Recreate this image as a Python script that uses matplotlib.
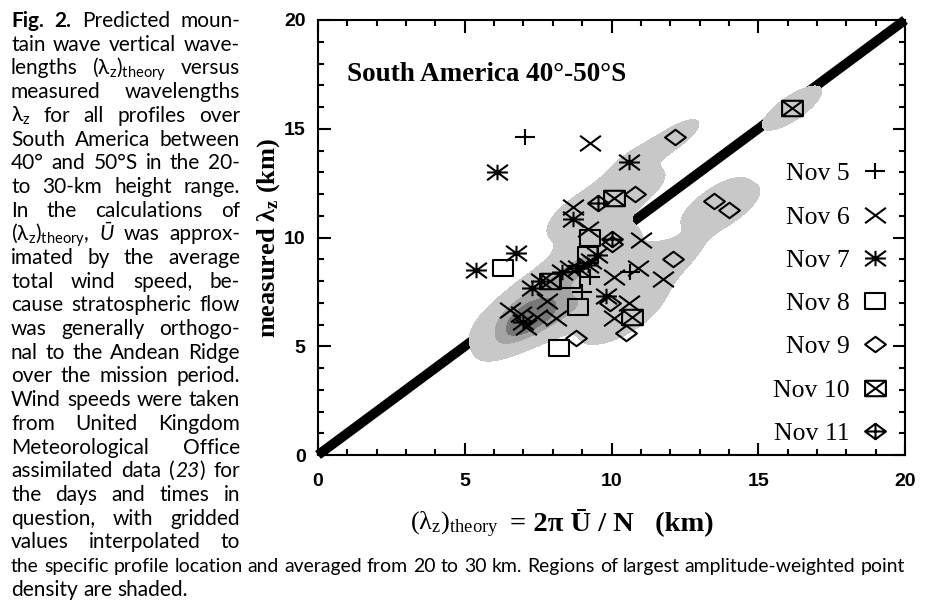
import re
import numpy as np
import matplotlib as mpl
mpl.use('agg')
import matplotlib.pyplot as plt
from matplotlib.path import Path
from matplotlib.ticker import MultipleLocator

# ---- data: (lambda_z)theory vs measured lambda_z, km ----
# w = amplitude weight used for the shaded point-density regions
nov5_x = [7.05, 10.63, 9.27, 9.0, 8.85]
nov5_y = [14.6, 8.4, 8.2, 7.5, 8.7]
nov5_w = [0, 0.2, 0.25, 0.25, 0.25]

nov6_x = [9.27, 8.7, 9.2, 11.0, 10.9, 11.75, 10.1, 10.6, 10.1, 6.55, 6.9, 7.1, 7.45, 8.1, 7.8, 8.6, 9.3]
nov6_y = [14.35, 11.4, 10.4, 9.9, 8.6, 8.1, 8.2, 7.0, 6.3, 6.67, 6.5, 5.9, 6.35, 6.3, 7.1, 8.6, 8.9]
nov6_w = [0, 0.25, 0.4, 0.15, 0.5, 0.2, 0.3, 0.6, 0.6, 1.0, 1.4, 1.4, 1.4, 0.9, 0.6, 0.25, 0.25]

nov7_x = [6.1, 5.4, 6.75, 8.7, 10.6, 7.3, 7.6, 9.8, 7.0, 8.85, 9.2, 9.5, 8.3]
nov7_y = [13.0, 8.5, 9.3, 10.85, 13.45, 7.7, 8.0, 7.3, 6.1, 8.6, 8.75, 9.2, 8.4]
nov7_w = [0, 0, 0, 0.3, 0.4, 0.3, 0.25, 0.5, 1.4, 0.25, 0.25, 0.25, 0.25]

nov8_x = [6.3, 9.27, 8.2, 8.86, 8.6, 9.2]
nov8_y = [8.6, 10.0, 4.9, 6.8, 8.05, 9.2]
nov8_w = [0, 0.4, 0, 0.7, 0.25, 0.25]

nov9_x = [12.16, 10.8, 13.5, 14.0, 12.1, 10.5, 8.8, 10.0, 9.95]
nov9_y = [14.6, 12.0, 11.7, 11.25, 9.0, 5.6, 5.4, 9.7, 7.0]
nov9_w = [0.5, 0.6, 0.7, 0.7, 0.6, 0, 0, 0.1, 0.5]

nov10_x = [16.15, 10.1, 10.7, 7.9]
nov10_y = [15.95, 11.8, 6.35, 8.0]
nov10_w = [0.7, 0.6, 0.6, 0.3]

nov11_x = [9.54, 10.0]
nov11_y = [11.6, 9.95]
nov11_w = [0.6, 0.1]

days = ['Nov 5', 'Nov 6', 'Nov 7', 'Nov 8', 'Nov 9', 'Nov 10', 'Nov 11']
one_to_one = [0, 20]
ticks = [0, 5, 10, 15, 20]

caption_left = [
    "*Fig.* *2.* Predicted moun-",
    "tain wave vertical wave-",
    "lengths $\\mathregular{(λ_z)_{theory}}$ versus",
    "measured wavelengths",
    "$\\mathregular{λ_z}$ for all profiles over",
    "South America between",
    "40° and 50°S in the 20-",
    "to 30-km height range.",
    "In the calculations of",
    "$\\mathregular{(λ_z)_{theory}}$, ~Ū~ was approx-",
    "imated by the average",
    "total wind speed, be-",
    "cause stratospheric flow",
    "was generally orthogo-",
    "nal to the Andean Ridge",
    "over the mission period.",
    "Wind speeds were taken",
    "from United Kingdom",
    "Meteorological Office",
    "assimilated data (~23~) for",
    "the days and times in",
    "question, with gridded",
    "values interpolated to",
]
caption_full = "the specific profile location and averaged from 20 to 30 km. Regions of largest amplitude-weighted point"
caption_last = "density are shaded."

W, H = 925, 607
fig = plt.figure(figsize=(W / 100, H / 100), dpi=100)
ax = fig.add_axes([318 / W, 1 - 455 / H, (905 - 318) / W, (455 - 20) / H])

# markers stretched sideways like in the original (non-square) plot
sx = 1.35
def mk(segments, closed=False):
    verts, codes = [], []
    for seg in segments:
        for i, p in enumerate(seg):
            verts.append(p)
            codes.append(Path.MOVETO if i == 0 else Path.LINETO)
        if closed:
            verts.append(seg[0])
            codes.append(Path.CLOSEPOLY)
    return Path(verts, codes)

plus = [[(-sx, 0), (sx, 0)], [(0, -1), (0, 1)]]
cross = [[(-sx, -1), (sx, 1)], [(-sx, 1), (sx, -1)]]
box = [[(-sx, -1), (sx, -1), (sx, 1), (-sx, 1)]]
diam = [[(-sx, 0), (0, 1), (sx, 0), (0, -1)]]
m_plus = mk(plus)
m_cross = mk(cross)
m_star = mk(plus + cross)
m_box = mk(box, closed=True)
m_diam = mk(diam, closed=True)
m_boxx = Path.make_compound_path(mk(box, closed=True), mk(cross))
m_diamp = Path.make_compound_path(mk(diam, closed=True), mk(plus))

series = [
    (nov5_x, nov5_y, nov5_w, m_plus),
    (nov6_x, nov6_y, nov6_w, m_cross),
    (nov7_x, nov7_y, nov7_w, m_star),
    (nov8_x, nov8_y, nov8_w, m_box),
    (nov9_x, nov9_y, nov9_w, m_diam),
    (nov10_x, nov10_y, nov10_w, m_boxx),
    (nov11_x, nov11_y, nov11_w, m_diamp),
]

# amplitude-weighted point density, kernel stretched along the 1:1 line
g = np.linspace(0, 20, 501)
GX, GY = np.meshgrid(g, g)
dens = np.zeros_like(GX)
for xs, ys, ws, _ in series:
    for x0, y0, w in zip(xs, ys, ws):
        du, dv = GX - x0, GY - y0
        a = (du + dv) / np.sqrt(2)
        c = (dv - du) / np.sqrt(2)
        dens += w * np.exp(-0.5 * ((a / 1.0) ** 2 + (c / 0.36) ** 2))
ax.contourf(GX, GY, dens, levels=[0.28, 2.0, 3.4, 1e3],
            colors=['#c8c8c8', '#a4a4a4', '#777777'], zorder=3)

ax.plot(one_to_one, one_to_one, color='k', lw=7, zorder=2, clip_on=False,
        solid_capstyle='butt')

for (xs, ys, ws, m), lab in zip(series, days):
    ax.plot(xs, ys, ls='none', marker=m, ms=15, mew=1.5, mec='k', mfc='none',
            zorder=4, label=lab)

ax.set_xlim(0, 20)
ax.set_ylim(0, 20)
ax.set_xticks(ticks)
ax.set_yticks(ticks)
ax.xaxis.set_minor_locator(MultipleLocator(1))
ax.yaxis.set_minor_locator(MultipleLocator(1))
ax.tick_params(which='both', direction='in', top=True, right=True, width=1.5)
ax.tick_params(which='major', length=9)
ax.tick_params(which='minor', length=4.5)
ax.tick_params(axis='x', pad=13)
ax.tick_params(axis='y', pad=9)
for lab in ax.get_xticklabels() + ax.get_yticklabels():
    lab.set_fontfamily('Liberation Sans')
    lab.set_fontweight('bold')
    lab.set_fontsize(14)
for s in ax.spines.values():
    s.set_linewidth(1.5)
    s.set_zorder(5)

serif = 'Liberation Serif'
ax.text(1.0, 17.5, 'South America 40°-50°S', va='center', ha='left',
        family=serif, weight='bold', fontsize=19.5)
ax.set_ylabel('measured $\\mathregular{λ_z}$ (km)', family=serif,
              weight='bold', fontsize=19)
ax.yaxis.set_label_coords(-0.061, 0.5)
fig.text(499 / W, 1 - 530 / H, '$\\mathregular{(λ_z)_{theory}}$', ha='right',
         va='baseline', family=serif, fontsize=19)
fig.text(510 / W, 1 - 530 / H, '= 2π Ū / N   (km)', ha='left', va='baseline',
         family=serif, weight='bold', fontsize=20.5)

ax.legend(loc='center right', bbox_to_anchor=(0.976, 0.348), markerfirst=False,
          frameon=False, numpoints=1, prop=dict(family=serif, size=18.5),
          handlelength=1.2, handletextpad=0.4, labelspacing=0.79,
          borderpad=0, borderaxespad=0)

# ---- caption, justified like the journal page ----
renderer = fig.canvas.get_renderer()

def natural_width(text, size):
    t = fig.text(0, 0, text.replace('*', '').replace('~', ''), family='Lato', size=size)
    wd = t.get_window_extent(renderer).width
    t.remove()
    return wd

widest = max(natural_width(line, 10) for line in caption_left)
cap_size = 10 * 228 / widest
full_size = min(cap_size, 10 * 888 / natural_width(caption_full, 10))

def split_word(word):
    out = []
    for part in re.split(r'(\*[^*]+\*|~[^~]+~)', word):
        if not part:
            continue
        if len(part) > 2 and part[0] in '*~' and part[-1] == part[0]:
            out.append((part[1:-1], part[0]))
        else:
            out.append((part, ''))
    return out

def put_line(text, base_px, x0, x1, size, justify=True):
    groups = []
    for word in text.split(' '):
        arts = []
        for s, tag in split_word(word):
            kw = dict(family='Lato', size=size)
            if tag == '*':
                kw['weight'] = 'bold'
            if tag == '~':
                kw['style'] = 'italic'
            t = fig.text(0, 1 - base_px / H, s, va='baseline', ha='left', **kw)
            arts.append((t, t.get_window_extent(renderer).width))
        groups.append(arts)
    widths = [sum(wd for _, wd in grp) for grp in groups]
    space = 0.26 * size * 100 / 72
    if justify and len(groups) > 1:
        gap = max((x1 - x0 - sum(widths)) / (len(groups) - 1), 0.6 * space)
    else:
        gap = space
    x = x0
    for grp in groups:
        for t, wd in grp:
            t.set_x(x / W)
            x += wd
        x += gap

step = 23.7
for i, line in enumerate(caption_left):
    put_line(line, 27 + step * i, 11, 240, cap_size)
put_line(caption_full, 27 + step * 23, 11, 905, full_size)
put_line(caption_last, 27 + step * 24, 11, 905, cap_size, justify=False)

fig.savefig('out.png', dpi=100)
